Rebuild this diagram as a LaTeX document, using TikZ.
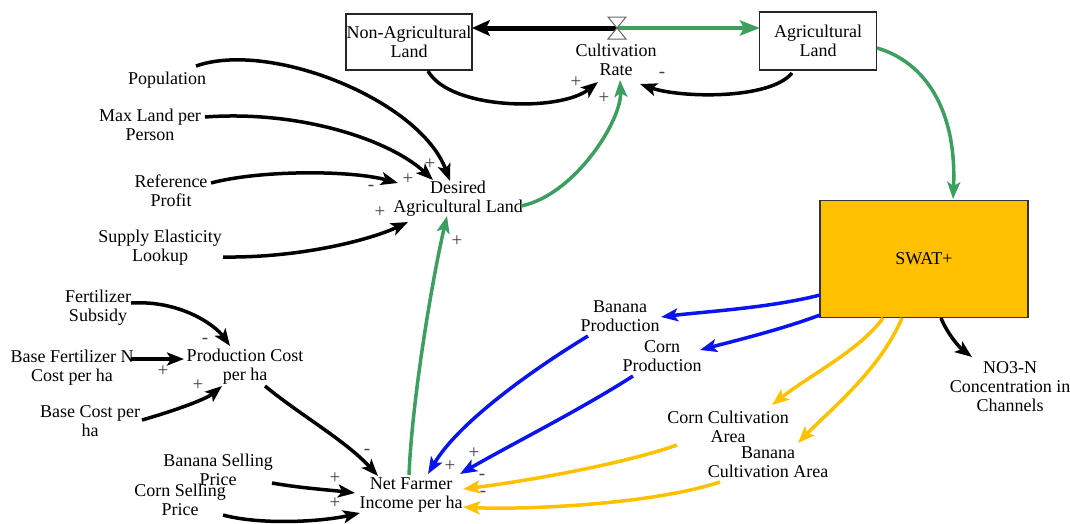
\documentclass[tikz,border=0pt]{standalone}
\usepackage{fontspec}
\setmainfont{Liberation Serif}
\usetikzlibrary{arrows.meta}
\definecolor{vgreen}{RGB}{60,158,95}
\definecolor{vblue}{RGB}{10,20,240}
\definecolor{vorange}{RGB}{255,192,0}
\begin{document}
\begin{tikzpicture}[x=1pt,y=-1pt,
  lbl/.style={font=\fontsize{18}{19}\selectfont, align=center, inner sep=1pt},
  stock/.style={lbl, draw=black!85, line width=1.5pt, inner sep=0pt},
  lnk/.style={line width=3.5pt, -{Stealth[length=17pt,width=13pt,inset=4pt]}},
  pol/.style={font=\fontsize{19}{19}\selectfont, text=black!75, inner sep=0pt}]
\useasboundingbox (0,0) rectangle (1070,523);
% stocks and model box
\node[stock, minimum width=126pt, minimum height=56pt] (nonag) at (409,42) {Non-Agricultural\\Land};
\node[stock, minimum width=117pt, minimum height=58pt] (ag) at (818,41) {Agricultural\\Land};
\node[lbl, draw=black!80, line width=1.5pt, fill=vorange, minimum width=208pt, minimum height=117pt] (swat) at (924,259) {SWAT+};
\node[inner sep=0pt, minimum width=18pt, minimum height=23pt] (valve) at (617,28) {};
% variables
\node[lbl] (rate) at (616,60) {Cultivation\\Rate};
\node[lbl] (pop) at (167,80) {Population};
\node[lbl] (maxland) at (150,125) {Max Land per\\Person};
\node[lbl] (refprofit) at (171,191) {Reference\\Profit};
\node[lbl] (supply) at (160,248) {Supply Elasticity\\Lookup};
\node[lbl] (desired) at (458,199) {Desired\\Agricultural Land};
\node[lbl] (fert) at (98,308) {Fertilizer\\Subsidy};
\node[lbl] (prodcost) at (245,367) {Production Cost\\per ha};
\node[lbl] (basefert) at (72,368) {Base Fertilizer N\\Cost per ha};
\node[lbl] (basecost) at (90,421) {Base Cost per\\ha};
\node[lbl] (banprice) at (218,470) {Banana Selling\\Price};
\node[lbl] (cornprice) at (180,500) {Corn Selling\\Price};
\node[lbl] (net) at (411,495) {Net Farmer\\Income per ha};
\node[lbl] (banprod) at (620,316) {Banana\\Production};
\node[lbl] (cornprod) at (662,356) {Corn\\Production};
\node[lbl] (corncult) at (728,427) {Corn Cultivation\\Area};
\node[lbl] (bancult) at (768,462) {Banana\\Cultivation Area};
\node[lbl] (no3) at (1010,387) {NO3-N\\Concentration in\\Channels};
% flow
\draw[line width=5pt, -{Stealth[length=18pt,width=16pt,inset=4pt]}] (valve.center) -- ([shift={(63,-14)}]nonag.center);
\draw[vgreen, line width=4.5pt, -{Stealth[length=20pt,width=15pt,inset=4pt]}] (valve.center) -- ([shift={(-58,-13)}]ag.center);
\draw[black!60, fill=white, line width=1pt] ([shift={(-9,-11)}]valve.center) -- ([shift={(9,-11)}]valve.center) -- ([shift={(-9,11)}]valve.center) -- ([shift={(9,11)}]valve.center) -- cycle;
% links
\draw[lnk] ([shift={(19,29)}]nonag.center) .. controls +(22,39) and +(-38,30) .. ([shift={(-18,22)}]rate.center);
\draw[lnk] ([shift={(-26,32)}]ag.center) .. controls +(-22,27) and +(40,14) .. ([shift={(24,24)}]rate.center);
\draw[lnk, vgreen] ([shift={(63,7)}]desired.center) .. controls +(54,-11) and +(2,40) .. ([shift={(4,20)}]rate.center);
\draw[lnk, vgreen] ([shift={(59,7)}]ag.center) .. controls +(48,14) and +(4,-89) .. ([shift={(29,-60)}]swat.center);
\draw[lnk] ([shift={(29,-14)}]pop.center) .. controls +(74,-26) and +(-30,-81) .. ([shift={(-8,-18)}]desired.center);
\draw[lnk] ([shift={(55,-8)}]maxland.center) .. controls +(95,-7) and +(-43,-40) .. ([shift={(-25,-19)}]desired.center);
\draw[lnk] ([shift={(40,-8)}]refprofit.center) .. controls +(49,-13) and +(-48,-13) .. ([shift={(-60,-16)}]desired.center);
\draw[lnk] ([shift={(63,9)}]supply.center) .. controls +(77,1) and +(-38,18) .. ([shift={(-50,23)}]desired.center);
\draw[lnk, vgreen] ([shift={(-2,-20)}]net.center) .. controls +(3,-75) and +(-15,64) .. ([shift={(-11,17)}]desired.center);
\draw[lnk] ([shift={(33,-5)}]fert.center) .. controls +(49,-3) and +(-15,-21) .. ([shift={(-15,-21)}]prodcost.center);
\draw[lnk] ([shift={(59,-9)}]basefert.center) -- ([shift={(-61,-8)}]prodcost.center);
\draw[lnk] ([shift={(52,-1)}]basecost.center) .. controls +(28,-8) and +(-17,14) .. ([shift={(-23,19)}]prodcost.center);
\draw[lnk] ([shift={(20,19)}]prodcost.center) .. controls +(35,29) and +(-33,-36) .. ([shift={(-33,-19)}]net.center);
\draw[lnk] ([shift={(54,13)}]banprice.center) .. controls +(28,5) and +(-25,-3) .. ([shift={(-56,-2)}]net.center);
\draw[lnk] ([shift={(43,15)}]cornprice.center) .. controls +(37,10) and +(-40,9) .. ([shift={(-51,18)}]net.center);
\draw[lnk, vblue] ([shift={(-104,36)}]swat.center) .. controls +(-50,13) and +(39,-5) .. ([shift={(41,1)}]banprod.center);
\draw[lnk, vblue] ([shift={(-104,56)}]swat.center) .. controls +(-40,15) and +(30,-8) .. ([shift={(38,-6)}]cornprod.center);
\draw[lnk, vorange] ([shift={(-41,59)}]swat.center) .. controls +(-23,32) and +(38,-30) .. ([shift={(44,-22)}]corncult.center);
\draw[lnk, vorange] ([shift={(-22,59)}]swat.center) .. controls +(-22,52) and +(32,-33) .. ([shift={(30,-19)}]bancult.center);
\draw[lnk] ([shift={(17,59)}]swat.center) .. controls +(7,17) and +(-12,-9) .. ([shift={(-38,-30)}]no3.center);
\draw[lnk, vblue] ([shift={(-32,20)}]banprod.center) .. controls +(-48,29) and +(32,-54) .. ([shift={(17,-21)}]net.center);
\draw[lnk, vblue] ([shift={(-29,20)}]cornprod.center) .. controls +(-53,34) and +(50,-29) .. ([shift={(49,-21)}]net.center);
\draw[lnk, vorange] ([shift={(-51,18)}]corncult.center) .. controls +(-57,20) and +(57,-7) .. ([shift={(52,-6)}]net.center);
\draw[lnk, vorange] ([shift={(-48,20)}]bancult.center) .. controls +(-70,23) and +(57,3) .. ([shift={(52,12)}]net.center);
% polarities
\node[pol] (p1) at (576,82) {+};
\node[pol] (p2) at (662,75) {-};
\node[pol] (p3) at (604,98) {+};
\node[pol] (p4) at (430,164) {+};
\node[pol] (p5) at (408,179) {+};
\node[pol] (p6) at (371,188) {-};
\node[pol] (p7) at (380,212) {+};
\node[pol] (p8) at (457,241) {+};
\node[pol] (p9) at (205,341) {-};
\node[pol] (p10) at (163,371) {+};
\node[pol] (p11) at (198,385) {+};
\node[pol] (p12) at (367,452) {-};
\node[pol] (p13) at (335,478) {+};
\node[pol] (p14) at (335,503) {+};
\node[pol] (p15) at (450,466) {+};
\node[pol] (p16) at (474,453) {+};
\node[pol] (p17) at (482,477) {-};
\node[pol] (p18) at (483,494) {-};
\end{tikzpicture}
\end{document}
